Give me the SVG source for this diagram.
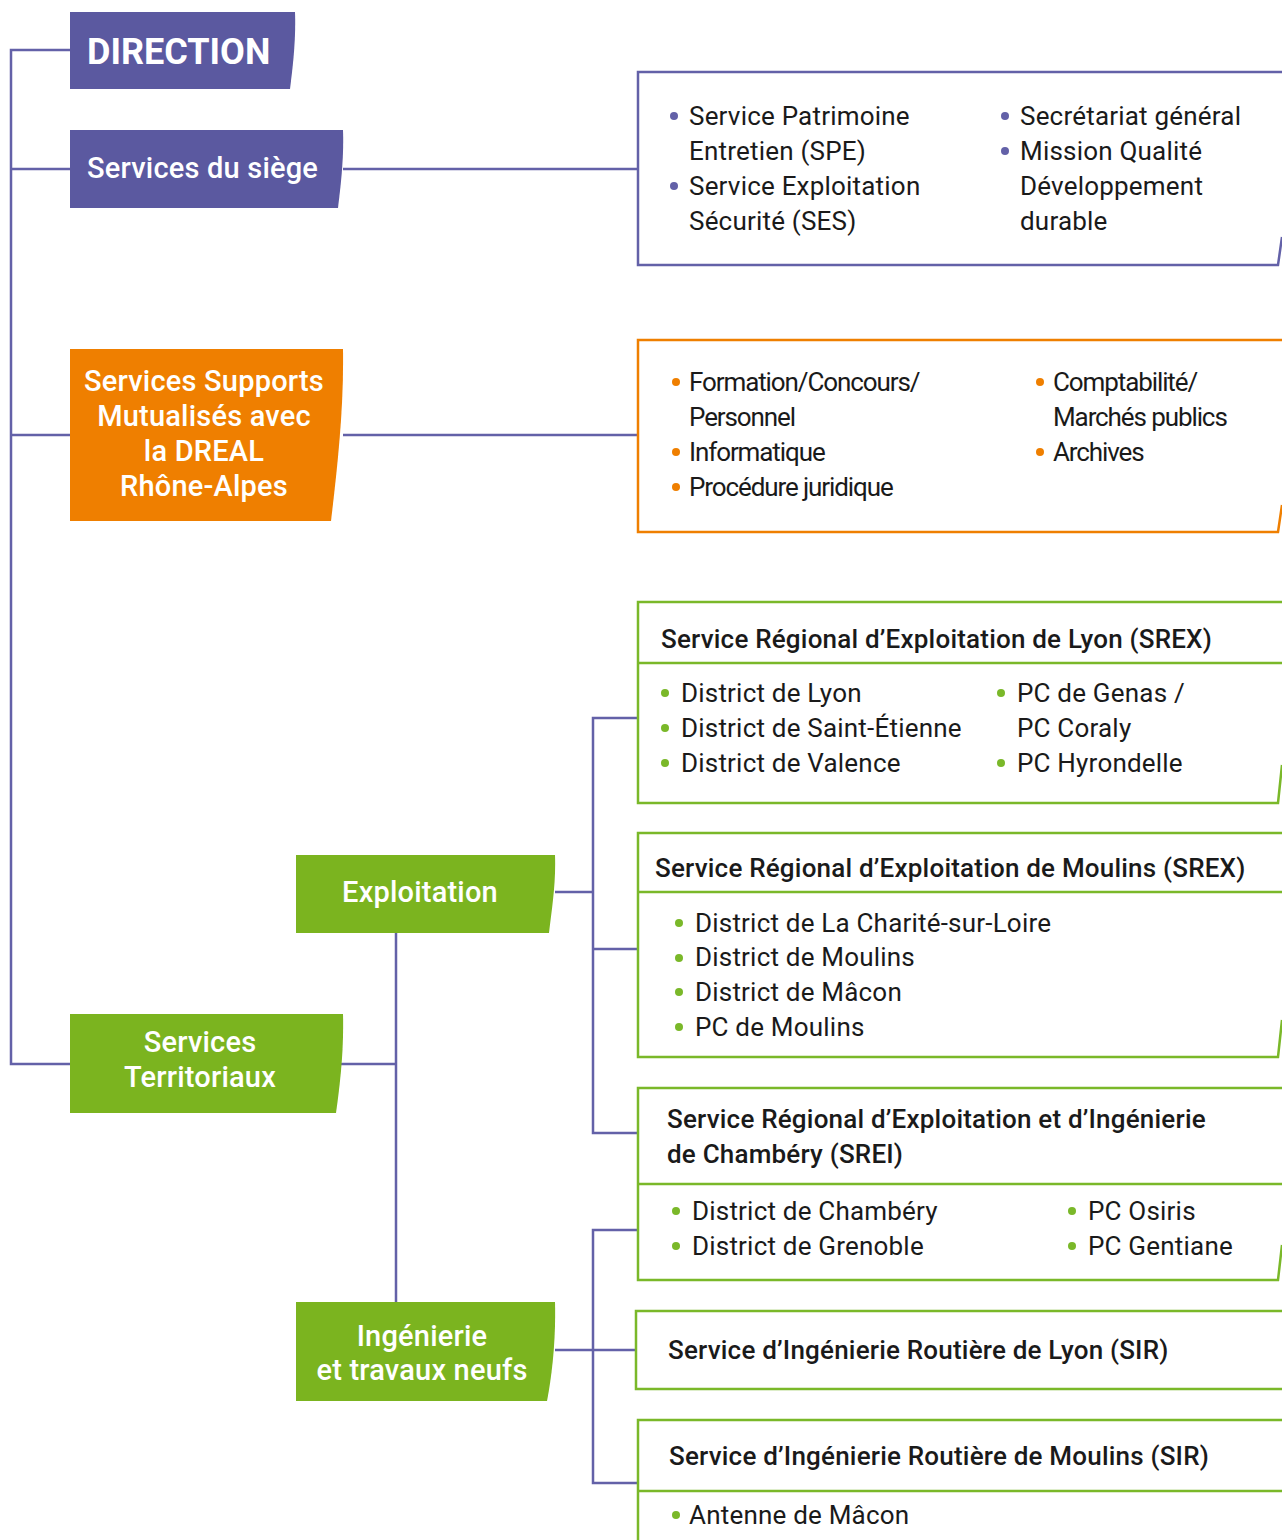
<svg xmlns="http://www.w3.org/2000/svg" width="1282" height="1540" viewBox="0 0 1282 1540">
<style>
.conn{fill:none;stroke:#6361a8;stroke-width:2.5}
.lt{fill:#fff;font-family:Roboto,"Liberation Sans",sans-serif;font-weight:500;font-size:29px;letter-spacing:0.2px}
.t{fill:#1a1a1a;font-family:Roboto,"Liberation Sans",sans-serif;font-size:26px;letter-spacing:0.2px}
.tn{fill:#1a1a1a;font-family:Roboto,"Liberation Sans",sans-serif;font-size:26px;letter-spacing:-1.1px}
.h{fill:#1a1a1a;font-family:Roboto,"Liberation Sans",sans-serif;font-weight:500;font-size:26px;letter-spacing:0.2px}
.bp{fill:#6361a8}.bo{fill:#ef7f00}.bg{fill:#7ab829}
.pbox{fill:#fff;stroke:#6361a8;stroke-width:2.5}
.obox{fill:#fff;stroke:#ef7f00;stroke-width:2.5}
.gbox{fill:#fff;stroke:#7ab829;stroke-width:2.5}
.gdiv{stroke:#7ab829;stroke-width:2.5}
</style>
<rect width="1282" height="1540" fill="#fff"/>
<g id="connectors">
<path class="conn" d="M70,50 H11 V1064 H70 M11,169 H70 M11,435 H70"/>
<path class="conn" d="M343,169 H638 M343,435 H638"/>
<path class="conn" d="M340,1064 H396 M396,933 V1302"/>
<path class="conn" d="M555,892 H593 M638,718 H593 V1133 H638 M593,949 H638"/>
<path class="conn" d="M555,1350 H636 M638,1230 H593 V1483 H638"/>
</g>
<g id="direction">
<path d="M70,12 H295 C296,40 293,65 290,89 H70 Z" fill="#5b59a0"/>
<text x="87" y="64" fill="#fff" font-family="Roboto,'Liberation Sans',sans-serif" font-weight="700" font-size="36">DIRECTION</text>
</g>
<g id="services-siege">
<path d="M70,130 H343 C344,158 341,183 338,208 H70 Z" fill="#5b59a0"/>
<text class="lt" x="87" y="178">Services du siège</text>
</g>
<g id="services-supports">
<path d="M70,349 H343 C344,410 337,470 331,521 H70 Z" fill="#ef7f00"/>
<text class="lt" text-anchor="middle" x="204"><tspan x="204" y="391">Services Supports</tspan><tspan x="204" y="426">Mutualisés avec</tspan><tspan x="204" y="461">la DREAL</tspan><tspan x="204" y="496">Rhône-Alpes</tspan></text>
</g>
<g id="services-territoriaux">
<path d="M70,1014 H343 C344,1050 340,1085 336,1113 H70 Z" fill="#7bb41f"/>
<text class="lt" text-anchor="middle"><tspan x="200" y="1052">Services</tspan><tspan x="200" y="1087">Territoriaux</tspan></text>
</g>
<g id="exploitation">
<path d="M296,855 H555 C556,883 552,908 549,933 H296 Z" fill="#7bb41f"/>
<text class="lt" text-anchor="middle" x="420" y="902">Exploitation</text>
</g>
<g id="ingenierie">
<path d="M296,1302 H555 C556,1340 552,1375 547,1401 H296 Z" fill="#7bb41f"/>
<text class="lt" text-anchor="middle"><tspan x="422" y="1346">Ingénierie</tspan><tspan x="422" y="1380">et travaux neufs</tspan></text>
</g>
<g id="box-siege">
<path class="pbox" d="M1284,72 H638 V265 H1278 L1282,237"/>
<circle class="bp" cx="674" cy="116" r="4"/><circle class="bp" cx="674" cy="186" r="4"/>
<circle class="bp" cx="1005" cy="116" r="4"/><circle class="bp" cx="1005" cy="151" r="4"/>
<text class="t"><tspan x="689" y="125">Service Patrimoine</tspan><tspan x="689" y="160">Entretien (SPE)</tspan><tspan x="689" y="195">Service Exploitation</tspan><tspan x="689" y="230">Sécurité (SES)</tspan></text>
<text class="t"><tspan x="1020" y="125">Secrétariat général</tspan><tspan x="1020" y="160">Mission Qualité</tspan><tspan x="1020" y="195">Développement</tspan><tspan x="1020" y="230">durable</tspan></text>
</g>
<g id="box-supports">
<path class="obox" d="M1284,340 H638 V532 H1278 L1282,505"/>
<circle class="bo" cx="676" cy="382" r="4"/><circle class="bo" cx="676" cy="452" r="4"/><circle class="bo" cx="676" cy="487" r="4"/>
<circle class="bo" cx="1040" cy="382" r="4"/><circle class="bo" cx="1040" cy="452" r="4"/>
<text class="tn"><tspan x="689" y="391">Formation/Concours/</tspan><tspan x="689" y="426">Personnel</tspan><tspan x="689" y="461">Informatique</tspan><tspan x="689" y="496">Procédure juridique</tspan></text>
<text class="tn"><tspan x="1053" y="391">Comptabilité/</tspan><tspan x="1053" y="426">Marchés publics</tspan><tspan x="1053" y="461">Archives</tspan></text>
</g>
<g id="box-srex-lyon">
<path class="gbox" d="M1284,602 H638 V803 H1278 L1282,765"/>
<line class="gdiv" x1="638" y1="663" x2="1282" y2="663"/>
<text class="h" x="661" y="648">Service Régional d’Exploitation de Lyon (SREX)</text>
<circle class="bg" cx="665" cy="693" r="4"/><circle class="bg" cx="665" cy="728" r="4"/><circle class="bg" cx="665" cy="763" r="4"/>
<circle class="bg" cx="1001" cy="693" r="4"/><circle class="bg" cx="1001" cy="763" r="4"/>
<text class="t"><tspan x="681" y="702">District de Lyon</tspan><tspan x="681" y="737">District de Saint-Étienne</tspan><tspan x="681" y="772">District de Valence</tspan></text>
<text class="t"><tspan x="1017" y="702">PC de Genas /</tspan><tspan x="1017" y="737">PC Coraly</tspan><tspan x="1017" y="772">PC Hyrondelle</tspan></text>
</g>
<g id="box-srex-moulins">
<path class="gbox" d="M1284,833 H638 V1057 H1278 L1282,1020"/>
<line class="gdiv" x1="638" y1="892" x2="1282" y2="892"/>
<text class="h" x="655" y="877">Service Régional d’Exploitation de Moulins (SREX)</text>
<circle class="bg" cx="679" cy="923" r="4"/><circle class="bg" cx="679" cy="958" r="4"/><circle class="bg" cx="679" cy="992" r="4"/><circle class="bg" cx="679" cy="1027" r="4"/>
<text class="t"><tspan x="695" y="932">District de La Charité-sur-Loire</tspan><tspan x="695" y="966">District de Moulins</tspan><tspan x="695" y="1001">District de Mâcon</tspan><tspan x="695" y="1036">PC de Moulins</tspan></text>
</g>
<g id="box-srei">
<path class="gbox" d="M1284,1088 H638 V1280 H1278 L1282,1245"/>
<line class="gdiv" x1="638" y1="1184" x2="1282" y2="1184"/>
<text class="h"><tspan x="667" y="1128">Service Régional d’Exploitation et d’Ingénierie</tspan><tspan x="667" y="1163">de Chambéry (SREI)</tspan></text>
<circle class="bg" cx="676" cy="1211" r="4"/><circle class="bg" cx="676" cy="1246" r="4"/>
<circle class="bg" cx="1072" cy="1211" r="4"/><circle class="bg" cx="1072" cy="1246" r="4"/>
<text class="t"><tspan x="692" y="1220">District de Chambéry</tspan><tspan x="692" y="1255">District de Grenoble</tspan></text>
<text class="t"><tspan x="1088" y="1220">PC Osiris</tspan><tspan x="1088" y="1255">PC Gentiane</tspan></text>
</g>
<g id="box-sir-lyon">
<path class="gbox" d="M1284,1311 H636 V1389 H1284"/>
<text class="h" x="668" y="1359">Service d’Ingénierie Routière de Lyon (SIR)</text>
</g>
<g id="box-sir-moulins">
<path class="gbox" d="M1284,1420 H638 V1545"/>
<line class="gdiv" x1="638" y1="1491" x2="1282" y2="1491"/>
<text class="h" x="669" y="1465">Service d’Ingénierie Routière de Moulins (SIR)</text>
<circle class="bg" cx="676" cy="1515" r="4"/>
<text class="t" x="689" y="1524">Antenne de Mâcon</text>
</g>
</svg>
